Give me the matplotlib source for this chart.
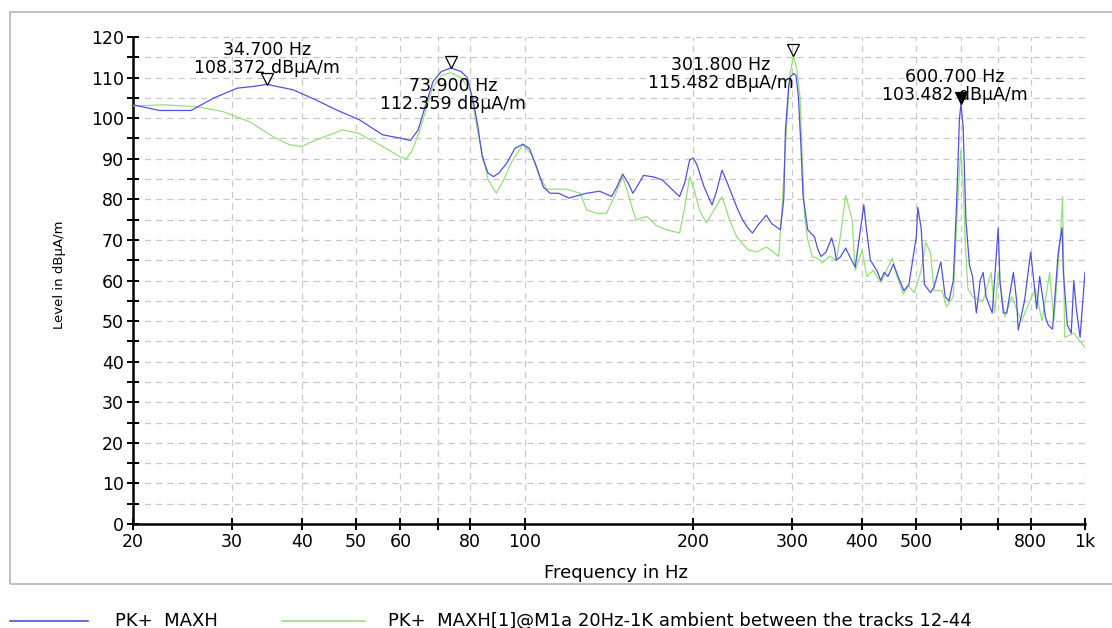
import matplotlib
matplotlib.use('Agg')
import matplotlib.pyplot as plt
from matplotlib.lines import Line2D
from matplotlib.patches import Rectangle
from matplotlib.transforms import offset_copy

plt.rcParams['font.family'] = ['DejaVu Sans']

# PK+ MAXH trace (blue)
blue_freq = [20, 22.3, 25.4, 27.8, 30.7, 33.2, 34.7, 35.6, 38.6, 42.4, 46.2, 50.7, 55.8, 59.9,
             62.5, 64.5, 66.5, 68.6, 71, 73.9, 77, 79, 81, 82.5, 84, 86, 88, 90, 93, 96,
             99.3, 102, 105, 108, 111, 115, 120, 125, 129, 136, 143, 146, 149.6, 153, 156,
             160, 163, 170, 176, 183, 189, 193, 197, 200, 203, 209, 216, 220, 225, 230,
             235, 240, 245, 250, 255, 262, 270, 276, 286, 290, 292, 296, 298, 302, 305,
             308, 311, 314, 320, 325, 329, 333, 338, 345, 353, 357, 360, 366, 374, 380,
             389, 398, 403, 407, 414, 426, 432, 438, 445, 455, 467, 475, 485, 500, 503,
             510, 517, 530, 538, 553, 563, 572, 582, 590, 597, 600.7, 606, 613, 622,
             630, 640, 650, 658, 666, 683, 700, 705, 715, 725, 745, 755, 760, 780, 800,
             810, 820, 830, 850, 860, 875, 896, 910, 915, 930, 945, 955, 965, 980, 1000]
blue_level = [103.3, 101.9, 101.9, 104.9, 107.4, 107.9, 108.37, 108.0, 107.0, 104.5, 102.0,
              99.6, 95.9, 95.1, 94.5, 97.0, 103.0, 109.0, 111.5, 112.36, 111.5, 110.0, 104.0,
              98.0, 90.5, 86.5, 85.6, 86.5, 89.0, 92.5, 93.6, 92.5, 88.0, 83.0, 81.5, 81.5,
              80.3, 81.0, 81.5, 82.0, 80.7, 83.0, 86.2, 84.0, 81.5, 84.0, 85.9, 85.5, 84.8,
              82.5, 80.7, 84.0, 89.7, 90.2, 88.5, 83.1, 78.6, 82.0, 87.2, 84.0, 80.7, 77.5,
              74.9, 73.0, 71.7, 74.0, 76.1, 74.0, 72.5, 80.0, 97.0, 108.0, 110.2, 111.0,
              110.5, 105.3, 94.0, 80.7, 72.5, 71.5, 70.8, 68.0, 65.9, 67.0, 70.5, 68.0, 65.0,
              65.8, 68.0, 66.0, 63.3, 73.2, 78.6, 73.0, 65.0, 62.2, 60.0, 62.0, 61.0, 64.0,
              60.0, 57.5, 59.0, 70.8, 78.0, 73.0, 59.0, 57.0, 58.5, 64.6, 56.0, 55.0, 60.0,
              79.0, 100.0, 103.48, 98.0, 74.9, 63.8, 60.9, 52.0, 60.0, 62.0, 56.0, 52.0,
              72.9, 60.0, 52.0, 52.0, 62.0, 55.0, 47.8, 55.0, 67.0, 60.0, 53.0, 61.0, 51.0,
              49.0, 48.0, 67.0, 73.0, 62.0, 49.0, 47.0, 60.0, 53.0, 46.0, 62.0]

# PK+ MAXH[1] ambient trace (green)
green_freq = [20, 22.6, 26.1, 29, 32.3, 35.6, 38, 39.9, 42.4, 47.3, 50.5, 55.2, 59.9, 61.5,
              63, 65, 68.6, 71, 73.6, 77, 80, 83, 86, 89, 91.5, 94.6, 99.3, 103, 106, 109.5,
              114, 119, 125.6, 129, 135, 140, 145, 149.6, 154, 158, 165, 172, 179, 189, 193,
              197, 201, 205, 211, 218, 225, 232, 239, 245, 251, 260, 270, 278, 284, 288,
              292, 297, 301.8, 306, 310, 313, 316, 320, 326, 333, 340, 350, 360, 366, 374,
              384, 389, 400, 408, 419, 432, 453, 462, 474, 484, 496, 510, 520, 530, 538,
              556, 566, 582, 593, 600, 606, 611, 618, 630, 658, 680, 690, 700, 720, 740,
              770, 815, 838, 865, 880, 905, 912, 920, 955, 980, 1000]
green_level = [103.0, 103.3, 102.8, 101.6, 99.1, 95.4, 93.5, 93.0, 94.6, 97.1, 96.3, 93.4,
               90.5, 90.0, 92.0, 97.0, 107.8, 110.5, 111.2, 110.0, 106.7, 94.6, 85.0, 81.5,
               84.5, 89.0, 93.5, 91.0, 86.0, 82.5, 82.5, 82.5, 81.5, 77.4, 76.5, 76.6, 81.0,
               85.6, 80.0, 74.9, 75.8, 73.5, 72.5, 71.7, 78.0, 85.6, 82.0, 77.4, 74.2, 77.5,
               80.7, 75.0, 70.8, 69.0, 67.5, 67.0, 68.3, 67.0, 65.9, 78.0, 93.0, 110.0,
               115.48, 112.0, 105.3, 90.0, 75.7, 70.0, 65.9, 65.5, 64.3, 66.0, 65.0, 71.0,
               81.0, 75.0, 62.5, 67.5, 61.0, 62.5, 59.5, 65.5, 61.0, 56.7, 58.7, 57.0, 62.5,
               69.5, 66.7, 57.5, 57.5, 53.5, 56.0, 80.0, 92.0, 84.0, 70.0, 58.0, 56.0, 55.0,
               62.0, 52.0, 62.0, 51.0, 56.0, 50.0, 58.0, 50.0, 62.0, 50.0, 72.0, 80.6, 46.0,
               47.0, 45.0, 43.5]

# markers
mark_freq = [34.7, 73.9, 301.8, 600.7]
mark_level = [108.372, 112.359, 115.482, 103.482]

tick_freq = [20, 30, 40, 50, 60, 70, 80, 100, 200, 300, 400, 500, 600, 700, 800, 1000]
tick_text = ['20', '30', '40', '50', '60', '', '80', '100', '200', '300', '400', '500', '', '', '800', '1k']

W, H = 1112, 628
fig = plt.figure(figsize=(W / 100, H / 100), dpi=100)
ax = fig.add_axes([133 / W, 1 - 524 / H, (1085 - 133) / W, (524 - 37) / H])

ax.plot(green_freq, green_level, color='#96e07c', lw=0.9, zorder=3)
ax.plot(blue_freq, blue_level, color='#5252dc', lw=0.9, zorder=4)

ax.set_xscale('log')
ax.set_xlim(20, 1000)
ax.set_ylim(0, 120)
ax.set_xticks(tick_freq)
ax.set_xticklabels(tick_text)
ax.xaxis.set_minor_locator(matplotlib.ticker.NullLocator())
ax.set_yticks(range(0, 121, 10))
ax.set_yticks(range(5, 120, 10), minor=True)

ax.grid(True, which='both', color='#c8c8c8', ls=(0, (5, 4)), lw=0.9)
ax.set_axisbelow(True)
for s in ['top', 'right']:
    ax.spines[s].set_visible(False)
for s in ['left', 'bottom']:
    ax.spines[s].set_linewidth(1.8)
ax.tick_params(which='both', direction='inout', length=9, width=1.4, labelsize=12.5, pad=2)

fig.text(616 / W, 1 - 573 / H, 'Frequency in Hz', ha='center', va='center', fontsize=13)
fig.text(60 / W, 1 - 275 / H, 'Level in dBµA/m', ha='center', va='center', rotation=90, fontsize=9.5)

# marker triangles, apex on the trace
tri = offset_copy(ax.transData, fig=fig, x=0, y=4, units='points')
for i in range(len(mark_freq)):
    face = 'black' if i == 3 else 'none'
    ax.plot(mark_freq[i], mark_level[i], marker='v', ms=8, mfc=face, mec='black', mew=0.9,
            transform=tri, zorder=6, clip_on=False)

label_pos = [(0, 7, 'center', 'bottom'), (2, -9, 'center', 'top'),
             (-73, -1, 'center', 'top'), (-6, 0, 'center', 'bottom')]
for i in range(len(mark_freq)):
    dx, dy, ha, va = label_pos[i]
    txt = f'{mark_freq[i]:.3f} Hz\n{mark_level[i]:.3f} dBµA/m'
    tr = offset_copy(ax.transData, fig=fig, x=dx, y=dy, units='dots')
    ax.text(mark_freq[i], mark_level[i], txt, transform=tr, ha=ha, va=va,
            multialignment='center', fontsize=12.5, linespacing=1.0, zorder=7)

# outer frame
fig.add_artist(Rectangle((10 / W, 1 - 584 / H), 1.2, (584 - 12) / H, transform=fig.transFigure,
                         fill=False, ec='#b4b4b4', lw=1.2))

# legend row
ly = 1 - 621 / H
fig.add_artist(Line2D([10 / W, 88 / W], [ly, ly], color='#5252dc', lw=1.2))
fig.add_artist(Line2D([282 / W, 365 / W], [ly, ly], color='#96e07c', lw=1.2))
fig.text(115 / W, ly, 'PK+  MAXH', va='center', fontsize=13)
fig.text(388 / W, ly, 'PK+  MAXH[1]@M1a 20Hz-1K ambient between the tracks 12-44', va='center', fontsize=13)

fig.savefig('out.png', dpi=100)
